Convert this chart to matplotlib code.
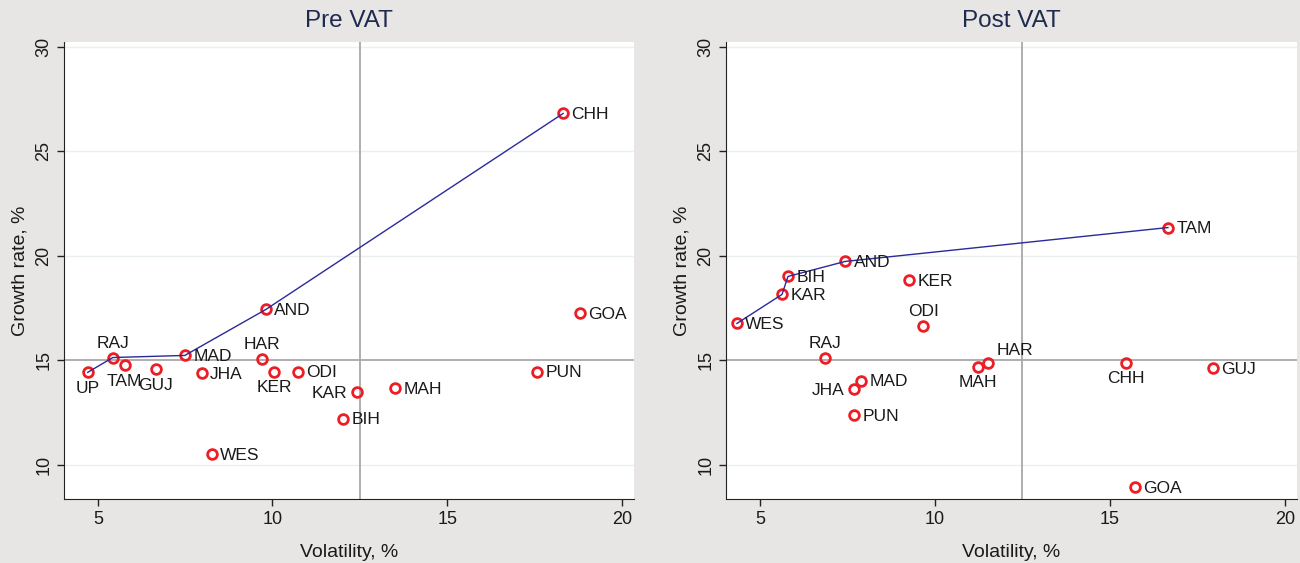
import matplotlib
matplotlib.use("Agg")

import matplotlib.pyplot as plt

# ── Data ─────────────────────────────────────────────────────
pre_states = ["UP", "RAJ", "TAM", "GUJ", "MAD", "JHA", "WES", "HAR", "AND",
              "KER", "ODI", "BIH", "KAR", "MAH", "PUN", "CHH", "GOA"]
pre_vol = [4.71, 5.43, 5.77, 6.66, 7.49, 7.98, 8.27, 9.70, 9.81,
           10.04, 10.73, 12.02, 12.42, 13.51, 17.58, 18.32, 18.81]
pre_growth = [14.43, 15.14, 14.76, 14.57, 15.24, 14.38, 10.50, 15.05, 17.44,
              14.47, 14.47, 12.22, 13.47, 13.66, 14.47, 26.82, 17.25]
pre_frontier = ["UP", "RAJ", "MAD", "AND", "CHH"]

post_states = ["WES", "KAR", "BIH", "AND", "TAM", "KER", "ODI", "RAJ", "MAD",
               "JHA", "PUN", "MAH", "HAR", "CHH", "GUJ", "GOA"]
post_vol = [4.34, 5.63, 5.80, 7.44, 16.66, 9.27, 9.67, 6.86, 7.89,
            7.69, 7.69, 11.22, 11.53, 15.46, 17.95, 15.72]
post_growth = [16.77, 18.16, 19.02, 19.74, 21.36, 18.83, 16.63, 15.10, 14.04,
               13.61, 12.37, 14.71, 14.90, 14.90, 14.62, 8.92]
post_frontier = ["WES", "KAR", "BIH", "AND", "TAM"]

# label clock positions (Stata style mlabposition), default is 3 o'clock
pre_pos = {"UP": 6, "RAJ": 12, "TAM": 6, "GUJ": 6, "HAR": 12, "KER": 6,
           "KAR": 9}
post_pos = {"ODI": 12, "RAJ": 12, "JHA": 9, "MAH": 6, "HAR": 1, "CHH": 6}

VLINE = 12.5
HLINE = 15

BG = "#e8e6e5"
TITLE_COLOR = "#1e2b4f"
LINE_COLOR = "#2a2a9a"
MARKER_COLOR = "#ee1c25"
TEXT = "#1a1a1a"

plt.rcParams["font.family"] = ["Liberation Sans", "DejaVu Sans"]

OFFSETS = {
    3: ((6, -1), "left", "center"),
    12: ((0, 5), "center", "bottom"),
    6: ((0, -6), "center", "top"),
    9: ((-7, -1), "right", "center"),
    1: ((6, 3), "left", "bottom"),
}


def draw_panel(ax, title, states, vol, growth, frontier, positions):
    ax.set_facecolor("white")
    for y in [10, 20, 25, 30]:
        ax.axhline(y, color="#eaf0f0", lw=1.0, zorder=0)
    ax.axvline(VLINE, color="#a8a8a8", lw=1.3, zorder=1)
    ax.axhline(HLINE, color="#a8a8a8", lw=1.3, zorder=1)

    fx = [vol[states.index(s)] for s in frontier]
    fy = [growth[states.index(s)] for s in frontier]
    ax.plot(fx, fy, color=LINE_COLOR, lw=1.0, zorder=3)

    ax.plot(vol, growth, ls="none", marker="o", ms=7, mfc="none",
            mec=MARKER_COLOR, mew=2.0, zorder=2)

    for s, x, y in zip(states, vol, growth):
        off, ha, va = OFFSETS[positions.get(s, 3)]
        ax.annotate(s, (x, y), xytext=off, textcoords="offset points",
                    ha=ha, va=va, fontsize=12.5, color=TEXT)

    ax.set_xlim(4.03, 20.35)
    ax.set_ylim(8.37, 30.24)
    ax.set_xticks([5, 10, 15, 20])
    ax.set_yticks([10, 15, 20, 25, 30])
    ax.tick_params(axis="both", labelsize=13, length=5, width=1,
                   color="#222222", labelcolor=TEXT)
    for lab in ax.get_yticklabels():
        lab.set_rotation(90)
        lab.set_va("center")
    ax.spines["top"].set_visible(False)
    ax.spines["right"].set_visible(False)
    ax.spines["left"].set_color("#222222")
    ax.spines["bottom"].set_color("#222222")
    ax.set_xlabel("Volatility, %", fontsize=14, color=TEXT, labelpad=12)
    ax.set_ylabel("Growth rate, %", fontsize=14, color=TEXT, labelpad=5)
    ax.set_title(title, fontsize=17.5, color=TITLE_COLOR, pad=11)


fig = plt.figure(figsize=(13, 5.63), dpi=100)
fig.patch.set_facecolor(BG)

ax1 = fig.add_axes([0.0492, 0.1137, 0.4385, 0.8117])
ax2 = fig.add_axes([0.5585, 0.1137, 0.4392, 0.8117])

draw_panel(ax1, "Pre VAT", pre_states, pre_vol, pre_growth,
           pre_frontier, pre_pos)
draw_panel(ax2, "Post VAT", post_states, post_vol, post_growth,
           post_frontier, post_pos)

fig.savefig("out.png", dpi=100, facecolor=BG)
